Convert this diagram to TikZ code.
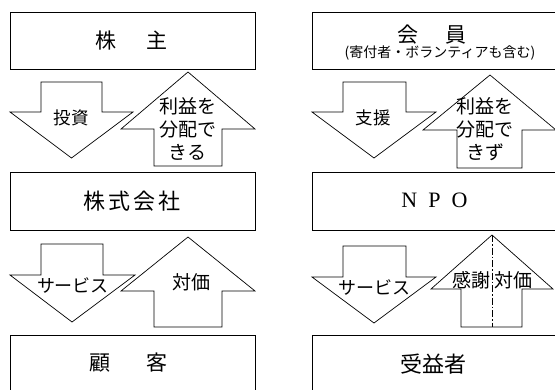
\documentclass[tikz,border=0pt]{standalone}
\usepackage{fontspec}
\setmainfont{Liberation Serif}
\newfontfamily\jp{Noto Sans CJK JP}
\newcommand\fs[1]{\fontsize{#1}{#1}\selectfont}
\tikzset{
  boxshape/.style={draw, line width=0.7pt},
  arrowshape/.style={draw, line width=0.7pt, line join=miter},
  lbl/.style={inner sep=0pt, font=\jp, align=center},
  three/.style={inner sep=0pt, align=center, font={\jp\fontsize{19}{23}\selectfont}},
}
\begin{document}
\begin{tikzpicture}[x=1pt,y=-1pt]
\useasboundingbox (0,0) rectangle (555,389);
\fill[white] (0,0) rectangle (555,389);
\clip (0,0) rectangle (555,389);
% boxes
\draw[boxshape] (10,12) rectangle (255,69);
\draw[boxshape] (10,172) rectangle (255,230);
\draw[boxshape] (10,335) rectangle (255,400);
\draw[boxshape] (312,12) rectangle (557,69);
\draw[boxshape] (312,172) rectangle (557,230);
\draw[boxshape] (312,335) rectangle (557,400);
% box texts
\node[lbl] (kabunushi) at (131.5,41) {\fs{21}株\hspace{31pt}主};
\node[lbl] (kaisha) at (132,201) {\fs{22}株\kern3pt 式\kern3pt 会\kern3pt 社};
\node[lbl] (kokyaku) at (128.5,363) {\fs{21}顧\hspace{36pt}客};
\node[lbl] (kaiin) at (432,35) {\fs{21}会\hspace{28pt}員};
\node[lbl] (kaiinsub) at (440,52.5) {\fs{14}(寄付者・ボランティアも含む)};
\node[inner sep=0pt] (npo) at (434.5,200) {\fs{22}N\hspace{11pt}P\hspace{11pt}O};
\node[lbl] (jueki) at (433.5,364) {\fs{22}受益者};
% left arrows
\draw[arrowshape] (41,82) -- (102,82) -- (102,112) -- (133,112) -- (71.5,158) -- (10,112) -- (41,112) -- cycle;
\draw[arrowshape] (188,72) -- (255,129) -- (222,129) -- (222,166) -- (154,166) -- (154,129) -- (121,129) -- cycle;
\draw[arrowshape] (41,244) -- (103,244) -- (103,275) -- (135,275) -- (72,322) -- (10,275) -- (41,275) -- cycle;
\draw[arrowshape] (188,237) -- (255,291) -- (222,291) -- (222,327) -- (154,327) -- (154,291) -- (121,291) -- cycle;
% right arrows
\draw[arrowshape] (343,82) -- (406,82) -- (406,112) -- (436,112) -- (374,158) -- (312,112) -- (343,112) -- cycle;
\draw[arrowshape] (490,75) -- (556,130) -- (522,130) -- (522,168) -- (457,168) -- (457,130) -- (423,130) -- cycle;
\draw[arrowshape] (343,246) -- (406,246) -- (406,277) -- (436,277) -- (374,323) -- (312,277) -- (343,277) -- cycle;
\draw[arrowshape] (492,235) -- (553,289) -- (522,289) -- (522,327) -- (461,327) -- (461,289) -- (431,289) -- cycle;
\draw[line width=0.6pt, dash pattern=on 7pt off 2pt on 1.5pt off 2pt] (492,235) -- (492,327);
% arrow texts
\node[lbl] (toshi) at (71,118) {\fs{17.5}投資};
\node[three] (rieki1) at (187.5,129) {利益を\\分配で\\きる};
\node[lbl] (service1) at (73,285) {\fs{18}サービス};
\node[lbl] (taika1) at (191,282) {\fs{19}対価};
\node[lbl] (shien) at (373,118) {\fs{17.5}支援};
\node[three] (rieki2) at (485,129) {利益を\\分配で\\きず};
\node[lbl] (service2) at (374.5,287) {\fs{18}サービス};
\node[lbl] (kansha) at (471,280) {\fs{19}感謝};
\node[lbl] (taika2) at (513,280) {\fs{19}対価};
\end{tikzpicture}
\end{document}
